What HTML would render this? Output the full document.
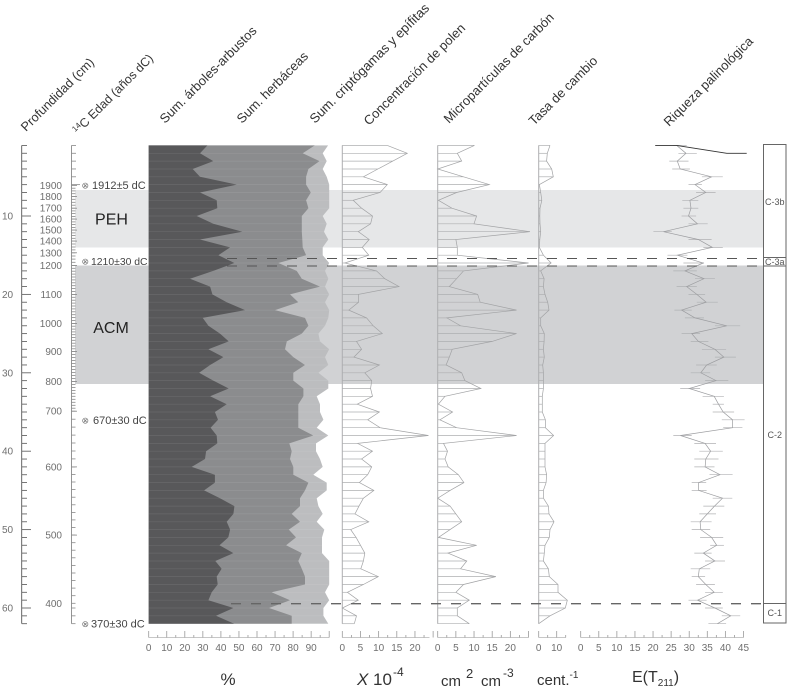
<!DOCTYPE html>
<html lang="es">
<head>
<meta charset="utf-8">
<title>Diagrama palinológico</title>
<style>
html,body{margin:0;padding:0;background:#fff;}
svg{display:block;font-family:"Liberation Sans",sans-serif;}
.top-title{font-size:13px;fill:#333;}
</style>
</head>
<body>
<svg id="chart" xmlns="http://www.w3.org/2000/svg" width="790" height="688" viewBox="0 0 790 688">
  <g id="zones">
    <rect x="75" y="190" width="688" height="57.5" fill="#e6e7e8"/>
    <rect x="75" y="265.5" width="688" height="118.5" fill="#d1d2d4"/>
    <text x="111.5" y="224.5" font-size="16" fill="#222" text-anchor="middle">PEH</text>
    <text x="111" y="333" font-size="16" fill="#222" text-anchor="middle">ACM</text>
  </g>
  <g id="bands"></g>
  <g id="curves"></g>
  <g id="axes"></g>

  <g id="top-titles">
    <text class="top-title" transform="translate(26,132) rotate(-45)" font-size="12.7" style="font-size:12.7px">Profundidad (cm)</text>
    <text class="top-title" transform="translate(78,135) rotate(-45)" style="font-size:12.3px"><tspan font-size="8" dy="-4">14</tspan><tspan dy="4">C  Edad (años dC)</tspan></text>
    <text class="top-title" transform="translate(165,124) rotate(-45)">Sum. árboles-arbustos</text>
    <text class="top-title" transform="translate(242,124) rotate(-45)">Sum. herbáceas</text>
    <text class="top-title" transform="translate(315,124) rotate(-45)" style="font-size:13.2px">Sum. criptógamas y epífitas</text>
    <text class="top-title" transform="translate(369,126) rotate(-45)">Concentración de polen</text>
    <text class="top-title" transform="translate(449,124) rotate(-45)">Micropartículas de carbón</text>
    <text class="top-title" transform="translate(534,126) rotate(-45)">Tasa de cambio</text>
    <text class="top-title" transform="translate(669,127) rotate(-45)">Riqueza palinológica</text>
  </g>

  <g id="unit-titles" fill="#333">
    <text x="228" y="685" font-size="17" text-anchor="middle">%</text>
    <text x="357" y="685" font-size="17"><tspan font-style="italic">X</tspan><tspan x="373">10</tspan><tspan x="393" dy="-9" font-size="12">-4</tspan></text>
    <text x="441" y="686" font-size="15">cm<tspan x="466" dy="-8" font-size="13">2</tspan><tspan x="481" dy="8">cm</tspan><tspan x="503" dy="-9" font-size="12">-3</tspan></text>
    <text x="537" y="685" font-size="15">cent.<tspan dy="-7" font-size="10">-1</tspan></text>
    <text x="632" y="682" font-size="16">E(T<tspan dy="4" font-size="10">211</tspan><tspan dy="-4">)</tspan></text>
  </g>

  <g id="dates" fill="#444" font-size="11">
    <text x="81.5" y="188.5" font-size="9" fill="#777">⊗</text>
    <text x="92" y="189">1912±5 dC</text>
    <text x="81.5" y="264.5" font-size="9" fill="#777">⊗</text>
    <text x="91" y="265" font-size="10.4">1210±30 dC</text>
    <text x="81.5" y="423.5" font-size="9" fill="#777">⊗</text>
    <text x="93" y="424">670±30 dC</text>
    <text x="81.5" y="627" font-size="9" fill="#777">⊗</text>
    <text x="91" y="627.5">370±30 dC</text>
  </g>

  <g id="zonation">
    <rect x="763.5" y="144.5" width="22.5" height="478.5" fill="#fff" stroke="#666" stroke-width="1"/>
    <line x1="763.5" x2="786" y1="257.5" y2="257.5" stroke="#666"/>
    <line x1="763.5" x2="786" y1="266" y2="266" stroke="#666"/>
    <line x1="763.5" x2="786" y1="603.5" y2="603.5" stroke="#666"/>
    <g fill="#555" font-size="9" text-anchor="middle">
      <text x="774.8" y="205">C-3b</text>
      <text x="774.8" y="265">C-3a</text>
      <text x="774.8" y="438">C-2</text>
      <text x="774.8" y="616">C-1</text>
    </g>
  </g>

  <g id="dashes" stroke="#555" stroke-width="1.1" stroke-dasharray="10 10" fill="none">
    <line x1="227" x2="763" y1="258.5" y2="258.5"/>
    <line x1="227" x2="763" y1="266" y2="266"/>
    <line x1="231" x2="763" y1="603.7" y2="603.7" stroke="#666" stroke-width="1.4"/>
  </g>
</svg>

<script>
// ---- Data (one value per sample, depth 1 to 62 cm) ----
const treesShrubsPct = [32.5,28.4,35.8,24.4,28.4,48.8,28.4,37.7,38,26.6,35.8,51.9,28.4,45.1,38.6,47.5,35.8,22.9,34,35.3,43.2,53.4,29.9,33.1,39.5,44.3,33.1,41.4,34,27.9,35.8,44.3,34,43.2,36.7,38.4,34.3,37.7,38,31.8,31.2,23.8,36.7,36.7,30.7,39.5,47.5,46.9,43.2,45.1,44.1,39.2,46.9,36.9,40.4,37.7,38.2,34.9,33.1,46.9,37.3,47.3];
const treesPlusHerbsPct = [92,85.3,94.6,88.5,87.2,87.2,89.8,87.2,88.5,84.8,84.8,84.8,85.1,85.3,87.2,71.8,82,84.8,94.9,78.3,82.9,70,86.6,88.5,84.8,76.5,75.5,80.1,86.6,80.1,80.1,85.7,85.7,82.9,82.9,82.9,82.9,91.2,77.9,79.2,78.3,80.1,80.1,88.5,86.6,83.8,83.8,79.2,83.8,77.6,81.6,76.1,84.8,82.9,84.8,86.6,86.6,68.1,78.3,66.7,79.2,79.2];
const allGroupsPct = [99.4,96.4,98.6,96.4,98.6,100,100,100,100,96.4,98.6,97.1,99.5,96.4,96.4,100,97.7,99.5,97.7,100,97.7,100,99.5,97.7,94,94.9,100,97.7,99.5,94,99.5,99.5,93.1,94.9,94.9,96.8,93.1,99.5,92.7,92.7,94.9,96.4,91.2,98.6,98.6,93.1,94,96.4,93.1,97.3,96,96,96,100,100,100,100,97.7,100,96.8,96.8,99.5];
const pollenConcentration = [12.4,17.9,13.9,9.8,5.8,12.4,10.4,3,5.3,8.3,7.8,4.4,7.4,5.5,7.3,0.7,9.4,11.7,15.6,4.4,4.5,1.8,6.7,8.5,11,3.9,5.3,3.2,10.2,6.2,8.1,7.8,8.3,4.1,10.2,7,10.4,23.7,4.2,8.3,5.3,8.1,7,4.7,8.7,5.8,4.6,3.5,7.3,2.3,3.8,5,6.2,5.8,5.1,9.9,5.8,1.4,4.4,0,3.9,3.3];
const charcoalParticles = [10.1,5.4,6.6,0,7.1,14.2,5.2,0.2,3.9,10.7,10,25.4,5,5.4,5.4,25,7.1,5.2,3.2,11,11.7,21.7,2.5,6.3,21.7,15,4,3.2,2.3,6.6,7.5,11.9,2,0.2,4.1,0.6,5.2,21.7,1.6,2.7,2,2.9,5.7,7.2,3.4,0,3.4,5,6.6,3.4,0.2,10.7,2.8,8,6.3,16,7.1,5,8.7,5.4,5.4,8.7];
const changeRate = [6.3,4.8,4.4,7.2,8.1,0.4,1.1,1.7,0.7,0.6,0.7,1.1,0.6,0.4,2.6,6.9,1.1,3,2.6,3.5,5,5.7,1.1,1.1,3.1,3,2.6,3.1,2.2,2.6,2.6,2.6,2,2,2,3.7,3.7,8.3,3.5,3.5,3.5,3.5,4.4,4.1,2.6,2.6,5.4,5.7,8.5,6.3,5.9,3.5,3.1,2.6,5.4,5.9,10.7,10.7,15.9,14.8,6.3,0];
const richness = [26.5,29.1,26.7,27.5,36.2,31.6,34.6,30.2,30.5,29.8,32.3,22.9,32.5,36.4,26.7,33.9,28.8,34.1,29.3,32.1,34.7,27.9,31.6,40.4,30.7,32.5,37.1,39.6,34.8,33.2,37.4,30,36.9,38.1,39.4,42,42,27.6,34.4,35.9,34.6,34.4,38.5,32.6,32.6,39.2,37,35,33,33.2,36.2,37.6,33.9,37.1,32.8,32.5,34.6,36.9,32.3,37.1,41.5,37.8];
const richnessLow = [25.6,27,24.5,25.3,33.5,29.8,31.9,28.1,28.4,27.9,29.8,20.1,29.8,33.9,24,28.4,25.6,31.6,26.5,29.8,32.1,25.9,28.8,37.1,27.9,30.4,33.5,37.1,31.9,30.4,34.4,27.5,33.7,36.5,36.5,39,39.4,25.6,31.4,32.8,31.4,31.4,35.6,30.7,30.7,36.5,33.9,32.8,30.4,30.7,33,35.8,31.4,34.4,30.4,30.7,31.9,34.4,29.8,34.4,39,35.3];
const richnessHigh = [29.3,32.1,29.8,30.2,39.3,33.5,37.3,32.5,32.5,31.9,35.1,25.2,36.2,39.3,29.5,34.1,32.1,37.1,32.1,34.4,37.9,30.7,34.1,44.1,33,35.3,40.2,42.9,37.6,35.8,40.8,33,39.6,39.6,42.4,45.3,44.7,30.7,37.4,39.3,38.1,37,42,34.7,34.8,41.9,39.7,37.4,36.2,35.8,39.4,39.6,36.2,39.9,35.8,34.4,37.1,39.3,34.8,39.3,44.1,40.2];
const richnessTopTraceValues = [20.6,26.5,40.4,45.9];
const richnessTopTraceDepths = [1,1,2,2];

const depthTickLabels = [10,20,30,40,50,60];
const ageTickLabels = [1900,1800,1700,1600,1500,1400,1300,1200,1100,1000,900,800,700,600,500,400];
const ageLabelDepths = [6.1,7.5,9,10.4,11.8,13.2,14.7,16.3,20,23.7,27.3,31.1,34.9,42,50.7,59.4];
const ageSubdivisions = [4,4,4,4,4,4,4,10,10,10,10,10,7,9,9];
const percentTickLabels = [0,10,20,30,40,50,60,70,80,90];
const pollenTickLabels = [0,5,10,15,20];
const charcoalTickLabels = [0,5,10,15,20];
const rateTickLabels = [0,10];
const richnessTickLabels = [0,5,10,15,20,25,30,35,40,45];

// ---- Axis functions ----
const NS = 'http://www.w3.org/2000/svg';
const yDepth = d => 137.6 + 7.84 * d;
const xPercent = v => 148.7 + 1.805 * v;
const xPollen = v => 342.3 + 3.633 * v;
const xCharcoal = v => 437.7 + 3.633 * v;
const xRate = v => 538.7 + 1.8 * v;
const xRichness = v => 580.7 + 3.617 * v;
const sampleDepth = i => i + 1;

function svgEl(tag, attrs, parent) {
  const el = document.createElementNS(NS, tag);
  for (const k in attrs) el.setAttribute(k, attrs[k]);
  parent.appendChild(el);
  return el;
}
const pointsOf = (vals, xf) => vals.map((v, i) => xf(v).toFixed(1) + ',' + yDepth(sampleDepth(i)).toFixed(1)).join(' ');

// ---- Stacked percentage bands ----
const bandsG = document.getElementById('bands');
const lastDepth = sampleDepth(treesShrubsPct.length - 1);
const zeroLeft = xPercent(0).toFixed(1);

const cryptBand = svgEl('polygon', {
  points: zeroLeft + ',' + yDepth(1).toFixed(1) + ' ' + pointsOf(allGroupsPct, xPercent) + ' ' + zeroLeft + ',' + yDepth(lastDepth).toFixed(1),
  fill: '#bcbdbf'
}, bandsG);



const herbBand = svgEl('polygon', {
  points: zeroLeft + ',' + yDepth(1).toFixed(1) + ' ' + pointsOf(treesPlusHerbsPct, xPercent) + ' ' + zeroLeft + ',' + yDepth(lastDepth).toFixed(1),
  fill: '#8b8c8e'
}, bandsG);



const treeBand = svgEl('polygon', {
  points: zeroLeft + ',' + yDepth(1).toFixed(1) + ' ' + pointsOf(treesShrubsPct, xPercent) + ' ' + zeroLeft + ',' + yDepth(lastDepth).toFixed(1),
  fill: '#58585a'
}, bandsG);



allGroupsPct.forEach((v, i) => {
  const rowLine = svgEl('line', {
    x1: zeroLeft, x2: xPercent(v).toFixed(1),
    y1: yDepth(sampleDepth(i)).toFixed(1), y2: yDepth(sampleDepth(i)).toFixed(1),
    stroke: 'rgba(255,255,255,0.10)', 'stroke-width': 0.7
  }, bandsG);
  
  
});

// ---- Line columns with sample rows ----
const curvesG = document.getElementById('curves');
function drawCurve(vals, xf, name) {
  const g = svgEl('g', {}, curvesG);
  
  
  vals.forEach((v, i) => {
    const rowLine = svgEl('line', {
      x1: xf(0).toFixed(1), x2: xf(v).toFixed(1),
      y1: yDepth(sampleDepth(i)).toFixed(1), y2: yDepth(sampleDepth(i)).toFixed(1),
      stroke: '#aeafb1', 'stroke-width': 0.7
    }, g);
    
    
  });
  const base = svgEl('line', {
    x1: xf(0).toFixed(1), x2: xf(0).toFixed(1),
    y1: yDepth(1).toFixed(1), y2: yDepth(lastDepth).toFixed(1),
    stroke: '#adaeb0', 'stroke-width': 1
  }, g);
  
  
  const line = svgEl('polyline', {
    points: pointsOf(vals, xf), fill: 'none', stroke: '#a2a3a5', 'stroke-width': 0.7
  }, g);
  
  
}
drawCurve(pollenConcentration, xPollen, 'pollen-concentration-curve');
drawCurve(charcoalParticles, xCharcoal, 'charcoal-curve');
drawCurve(changeRate, xRate, 'change-rate-curve');

// ---- Richness with error bars ----
const richG = svgEl('g', {}, curvesG);


richness.forEach((v, i) => {
  const bar = svgEl('line', {
    x1: xRichness(richnessLow[i]).toFixed(1), x2: xRichness(richnessHigh[i]).toFixed(1),
    y1: yDepth(sampleDepth(i)).toFixed(1), y2: yDepth(sampleDepth(i)).toFixed(1),
    stroke: '#b0b1b3', 'stroke-width': 0.7
  }, richG);
  
  
});
const richLine = svgEl('polyline', {
  points: pointsOf(richness, xRichness), fill: 'none', stroke: '#9c9da0', 'stroke-width': 0.7
}, richG);


const richTop = svgEl('polyline', {
  points: richnessTopTraceValues.map((v, i) => xRichness(v).toFixed(1) + ',' + yDepth(richnessTopTraceDepths[i]).toFixed(1)).join(' '),
  fill: 'none', stroke: '#333', 'stroke-width': 0.9
}, richG);



// ---- Axes ----
const axesG = document.getElementById('axes');

// Depth axis
const depthLine = svgEl('line', { x1: 21.7, x2: 21.7, y1: yDepth(1), y2: yDepth(62), stroke: '#555', 'stroke-width': 0.9 }, axesG);


for (let d = 1; d <= 62; d++) {
  const major = d % 10 === 0;
  const t = svgEl('line', { x1: 21.7, x2: major ? 31 : 27, y1: yDepth(d), y2: yDepth(d), stroke: '#666', 'stroke-width': 0.9 }, axesG);
  
  
}
depthTickLabels.forEach(v => {
  const t = svgEl('text', { x: 7.5, y: yDepth(v) + 3.5, 'font-size': 10, fill: '#6f6f6f', 'text-anchor': 'middle' }, axesG);
  t.textContent = v;
  
  
});

// Age axis
const ageLine = svgEl('line', { x1: 71.5, x2: 71.5, y1: yDepth(1), y2: yDepth(62), stroke: '#888', 'stroke-width': 0.9 }, axesG);


for (let d = 1; d <= 6; d++) {
  const t = svgEl('line', { x1: 71.5, x2: d === 6 ? 80 : 76, y1: yDepth(d), y2: yDepth(d), stroke: '#888', 'stroke-width': 0.8 }, axesG);
  
  
}
ageSubdivisions.forEach((n, s) => {
  for (let k = 0; k <= n; k++) {
    const d = ageLabelDepths[s] + (ageLabelDepths[s + 1] - ageLabelDepths[s]) * k / n;
    const t = svgEl('line', { x1: 71.5, x2: k === 0 ? 77 : 75.5, y1: yDepth(d).toFixed(1), y2: yDepth(d).toFixed(1), stroke: '#888', 'stroke-width': 0.8 }, axesG);
    
    
  }
});
for (let d = 60; d <= 62; d++) {
  const t = svgEl('line', { x1: 71.5, x2: 75.5, y1: yDepth(d), y2: yDepth(d), stroke: '#888', 'stroke-width': 0.8 }, axesG);
  
  
}
ageTickLabels.forEach((v, i) => {
  const t = svgEl('text', { x: 62, y: yDepth(ageLabelDepths[i]) + 3.5, 'font-size': 10, fill: '#6f6f6f', 'text-anchor': 'end' }, axesG);
  t.textContent = v;
  
  
});

// Bottom axes
function bottomAxis(xf, maxVal, minorStep, majorStep, labels, name) {
  const g = svgEl('g', {}, axesG);
  
  
  const base = svgEl('line', { x1: xf(0), x2: xf(maxVal), y1: 637.5, y2: 637.5, stroke: '#b5b5b5', 'stroke-width': 0.7 }, g);
  
  
  const count = Math.round(maxVal / minorStep);
  for (let k = 0; k <= count; k++) {
    const v = k * minorStep;
    const major = Math.abs(v / majorStep - Math.round(v / majorStep)) < 1e-6;
    const t = svgEl('line', { x1: xf(v), x2: xf(v), y1: 637.5, y2: major ? 631 : 635, stroke: '#999', 'stroke-width': 0.8 }, g);
    
    
  }
  labels.forEach(v => {
    const t = svgEl('text', { x: xf(v), y: 651, 'font-size': 10, fill: '#6f6f6f', 'text-anchor': 'middle' }, g);
    t.textContent = v;
    
    
  });
}
bottomAxis(xPercent, 100, 5, 10, percentTickLabels, 'percent-axis');
bottomAxis(xPollen, 24, 2.5, 5, pollenTickLabels, 'pollen-axis');
bottomAxis(xCharcoal, 25, 2.5, 5, charcoalTickLabels, 'charcoal-axis');
bottomAxis(xRate, 15, 5, 10, rateTickLabels, 'rate-axis');
bottomAxis(xRichness, 45, 2.5, 5, richnessTickLabels, 'richness-axis');
</script>
</body>
</html>
